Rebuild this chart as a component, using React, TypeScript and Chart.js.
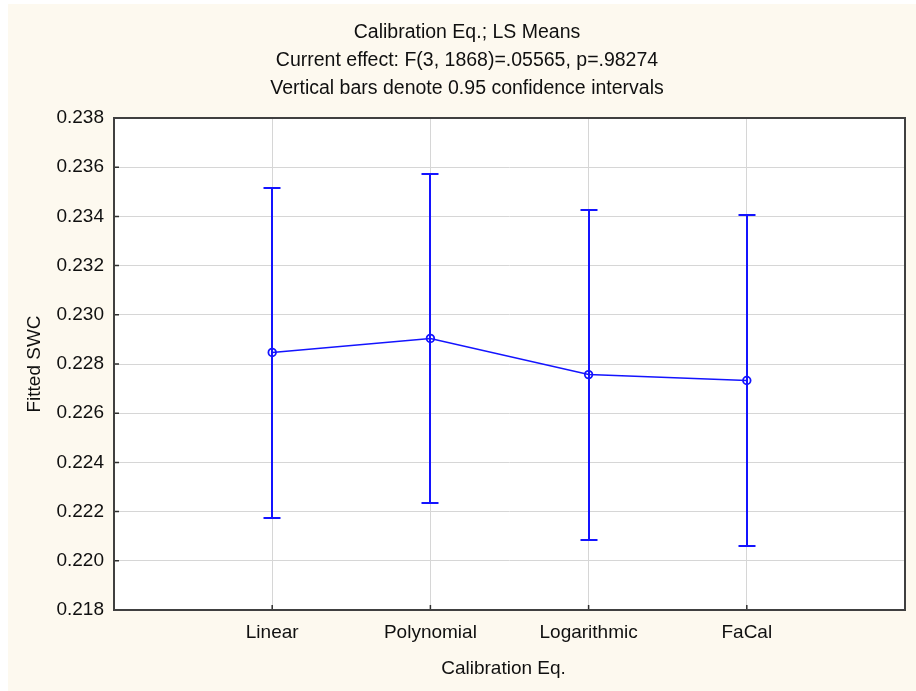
import React, { useEffect, useRef } from "react";
import { Chart, registerables } from "chart.js";

Chart.register(...registerables);

const categories = ["Linear", "Polynomial", "Logarithmic", "FaCal"];
const means = [0.22847, 0.22904, 0.22757, 0.22733];
const upper = [0.23515, 0.23572, 0.23425, 0.23405];
const lower = [0.22175, 0.22236, 0.22085, 0.22061];
const yMin = 0.218;
const yMax = 0.238;
const yStep = 0.002;
const titleLines = [
  "Calibration Eq.; LS Means",
  "Current effect: F(3, 1868)=.05565, p=.98274",
  "Vertical bars denote 0.95 confidence intervals",
];
const xTitle = "Calibration Eq.";
const yTitle = "Fitted SWC";

const FONT = "Arial, 'Liberation Sans', sans-serif";
const BLUE = "#1414ff";
const TEXT = "#101010";

const decorPlugin = {
  id: "decor",
  beforeDraw(chart: any) {
    const { ctx, chartArea: a, width, height } = chart;
    ctx.save();
    ctx.fillStyle = "#fdf9ef";
    ctx.fillRect(0, 0, width, height);
    ctx.fillStyle = "#ffffff";
    ctx.fillRect(a.left, a.top, a.right - a.left, a.bottom - a.top);
    ctx.restore();
  },
  beforeDatasetsDraw(chart: any) {
    const { ctx } = chart;
    const xs = chart.scales.x;
    const ys = chart.scales.y;
    ctx.save();
    ctx.strokeStyle = BLUE;
    ctx.lineWidth = 2;
    for (let i = 0; i < categories.length; i++) {
      const x = Math.round(xs.getPixelForValue(i + 1));
      const yt = Math.round(ys.getPixelForValue(upper[i]));
      const yb = Math.round(ys.getPixelForValue(lower[i]));
      ctx.beginPath();
      ctx.moveTo(x, yt);
      ctx.lineTo(x, yb);
      ctx.moveTo(x - 8.5, yt);
      ctx.lineTo(x + 8.5, yt);
      ctx.moveTo(x - 8.5, yb);
      ctx.lineTo(x + 8.5, yb);
      ctx.stroke();
    }
    ctx.restore();
  },
  afterDraw(chart: any) {
    const { ctx, chartArea: a } = chart;
    const xs = chart.scales.x;
    const ys = chart.scales.y;
    ctx.save();
    ctx.strokeStyle = "#303030";
    ctx.lineWidth = 1.5;
    ctx.beginPath();
    ys.ticks.forEach((t: any) => {
      const y = ys.getPixelForValue(t.value);
      ctx.moveTo(a.left, y);
      ctx.lineTo(a.left + 5, y);
    });
    for (let i = 0; i < categories.length; i++) {
      const x = xs.getPixelForValue(i + 1);
      ctx.moveTo(x, a.bottom);
      ctx.lineTo(x, a.bottom - 5);
    }
    ctx.stroke();
    ctx.strokeStyle = "#404040";
    ctx.lineWidth = 2;
    ctx.strokeRect(a.left, a.top, a.right - a.left, a.bottom - a.top);
    ctx.fillStyle = TEXT;
    ctx.font = `19.5px ${FONT}`;
    ctx.textAlign = "center";
    ctx.textBaseline = "alphabetic";
    const baselines = [33.7, 61.9, 90.3];
    titleLines.forEach((t, i) => ctx.fillText(t, 459, baselines[i]));
    ctx.font = `19px ${FONT}`;
    ctx.fillText(xTitle, (a.left + a.right) / 2 - 6, 670);
    ctx.translate(32, (a.top + a.bottom) / 2);
    ctx.rotate(-Math.PI / 2);
    ctx.fillText(yTitle, 0, 0);
    ctx.restore();
  },
};

export default function App() {
  const ref = useRef<HTMLCanvasElement | null>(null);
  useEffect(() => {
    if (!ref.current) return;
    const chart = new Chart(ref.current, {
      type: "line",
      data: {
        datasets: [
          {
            data: means.map((m, i) => ({ x: i + 1, y: m })),
            borderColor: BLUE,
            borderWidth: 1.5,
            pointStyle: "circle",
            pointRadius: 3.8,
            pointBorderWidth: 1.8,
            pointBackgroundColor: "rgba(255,255,255,0)",
            pointBorderColor: BLUE,
            tension: 0,
          },
        ],
      },
      options: {
        responsive: false,
        animation: false,
        events: [],
        layout: { padding: { left: 0, top: 114, right: 8, bottom: 0 } },
        plugins: { legend: { display: false }, tooltip: { enabled: false }, title: { display: false } },
        scales: {
          x: {
            type: "linear",
            min: 0,
            max: categories.length + 1,
            afterFit: (s: any) => {
              s.height = 81;
            },
            afterBuildTicks: (s: any) => {
              s.ticks = [];
              for (let v = 0; v <= categories.length + 1; v++) s.ticks.push({ value: v });
            },
            border: { display: false },
            grid: {
              drawTicks: false,
              color: (c: any) =>
                c.tick && c.tick.value >= 1 && c.tick.value <= categories.length ? "#d6d6d6" : "rgba(0,0,0,0)",
              lineWidth: 1,
            },
            ticks: {
              padding: 11,
              color: TEXT,
              font: { family: FONT, size: 19 },
              maxRotation: 0,
              autoSkip: false,
              callback: (v: any) => (v >= 1 && v <= categories.length ? categories[v - 1] : ""),
            },
          },
          y: {
            type: "linear",
            min: yMin,
            max: yMax,
            afterFit: (s: any) => {
              s.width = 106;
            },
            border: { display: false },
            grid: { drawTicks: false, color: "#d6d6d6", lineWidth: 1 },
            ticks: {
              stepSize: yStep,
              padding: 10,
              color: TEXT,
              font: { family: FONT, size: 19 },
              callback: (v: any) => Number(v).toFixed(3),
            },
          },
        },
      },
      plugins: [decorPlugin],
    } as any);
    return () => chart.destroy();
  }, []);
  return (
    <div style={{ position: "absolute", left: 8, top: 4, width: 908, height: 687 }}>
      <canvas ref={ref} width={908} height={687} style={{ display: "block", width: 908, height: 687 }} />
    </div>
  );
}
